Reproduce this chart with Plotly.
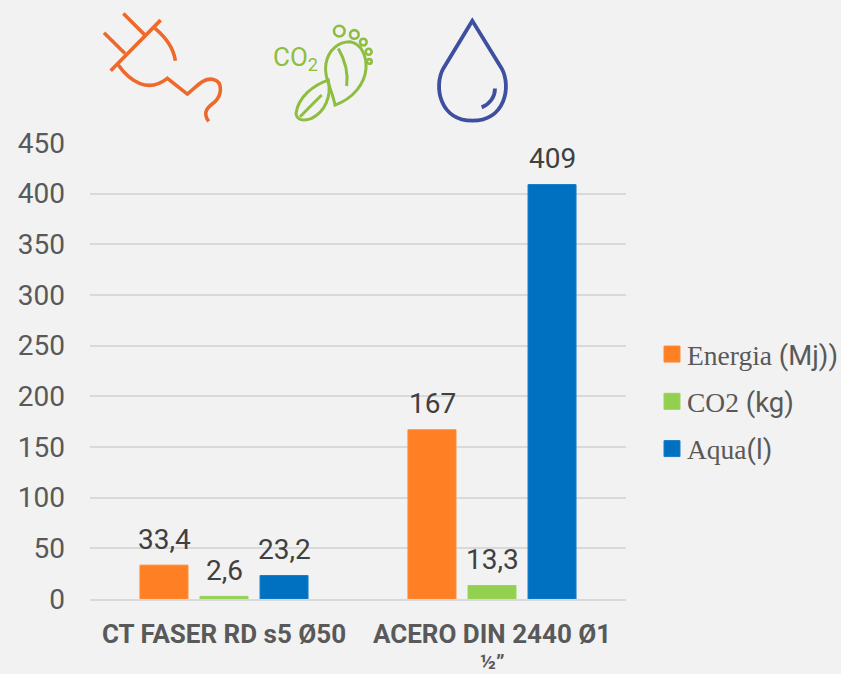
import re
import plotly.graph_objects as go

W, H = 841, 674
L, R, T, B = 90, 626, 143, 599.5
PW = W - L  # paper width: right margin is zero, the axis domain stops at R

categories = ["CT FASER RD s5 Ø50", "ACERO DIN 2440 Ø1"]
category_second_lines = ["", "½”"]
energia = [33.4, 167]
co2 = [2.6, 13.3]
agua = [23.2, 409]
series_names = [
    '<span style="font-family:Liberation Serif">Energia</span> (Mj))',
    '<span style="font-family:Liberation Serif">CO2</span> (kg)',
    '<span style="font-family:Liberation Serif">Aqua</span>(l)',
]
colors = ["#FF7F24", "#92D050", "#0070C0"]
edges = ["#FF8A38", "#9AD45E", "#1A7EC8"]


def label(v):
    return str(v).replace(".", ",")


fig = go.Figure()
offsets = [-60, 0, 60]
for name, vals, c, e, dx in zip(series_names, [energia, co2, agua], colors, edges, offsets):
    fig.add_bar(
        x=categories, y=vals, name=name, legendgroup=name,
        marker=dict(color=c, line=dict(color=e, width=1)),
        cliponaxis=False,
    )
    for cat, v in zip(categories, vals):
        fig.add_annotation(x=cat, y=v, xref="x", yref="y", text=label(v), showarrow=False,
                           xshift=dx, yshift=26, yanchor="middle",
                           font=dict(family="Roboto", size=28, color="#404040"))

for cat, line2 in zip(categories, category_second_lines):
    if line2:
        fig.add_annotation(x=cat, y=0, xref="x", yref="y", text=line2, showarrow=False,
                           yshift=-62.5, yanchor="middle",
                           font=dict(family="Roboto", size=21, color="#595959", weight="bold"))


def px(x, y):
    return (x - L) / PW, (B - y) / (B - T)


def zpath(d, ox, scale=1 / 3):
    """Convert a path in icon-sketch pixels to paper coordinates."""
    def rep(m):
        x, y = px(ox + float(m.group(1)) * scale, float(m.group(2)) * scale)
        return f"{x:.5f} {y:.5f}"
    return re.sub(r"(-?[\d.]+) (-?[\d.]+)", rep, d)


shapes = []


def add_path(d, ox, color, width):
    shapes.append(dict(type="path", xref="paper", yref="paper", path=zpath(d, ox),
                       line=dict(color=color, width=width), layer="above"))


def add_circle(cx, cy, r, ox, color, width):
    x0, y0 = px(ox + (cx - r) / 3, (cy + r) / 3)
    x1, y1 = px(ox + (cx + r) / 3, (cy - r) / 3)
    shapes.append(dict(type="circle", xref="paper", yref="paper", x0=x0, y0=y0, x1=x1, y1=y1,
                       line=dict(color=color, width=width)))


ORANGE, GREEN, BLUE = "#EE6A2C", "#8DBE3F", "#3F4FA0"
for d in [
    "M 100 40 L 165 105",
    "M 42 98 L 105 160",
    "M 62 212 L 212 60",
    "M 195 85 C 225 110 250 140 256 182",
    "M 85 195 C 120 245 175 280 232 235 L 292 282 C 320 260 340 232 370 238 "
    "C 400 245 395 285 375 305 C 355 320 335 335 356 364",
]:
    add_path(d, 90, ORANGE, 3.6)
for d in [
    "M 735 315 C 725 265 700 230 708 190 C 715 150 745 125 780 125 "
    "C 815 130 830 170 828 205 C 825 250 790 295 735 315 Z",
    "M 745 145 C 765 180 775 220 770 258",
    "M 715 240 C 670 255 625 290 618 340 C 620 360 640 365 665 355 C 705 335 725 290 715 240 Z",
    "M 630 350 L 695 285",
]:
    add_path(d, 90, GREEN, 3)
for c in [(748, 93, 16), (793, 103, 13), (820, 126, 10), (836, 155, 9), (838, 184, 7)]:
    add_circle(*c, 90, GREEN, 2.6)
add_path("M 247 62 L 160 205 C 130 260 150 362 247 362 C 345 362 365 260 335 205 Z", 390, BLUE, 3.8)
add_path("M 275 322 C 300 312 315 290 315 265", 390, BLUE, 3.8)

co2_x, co2_y = px(295, 58)
fig.add_annotation(xref="paper", yref="paper", x=co2_x, y=co2_y, text="CO<sub>2</sub>", showarrow=False,
                   xanchor="center", yanchor="middle",
                   font=dict(family="Roboto", size=26, color=GREEN))

fig.update_layout(
    width=W, height=H, autosize=False,
    margin=dict(l=L, r=0, t=T, b=H - B, pad=0, autoexpand=False),
    paper_bgcolor="#F2F2F2", plot_bgcolor="#F2F2F2",
    barmode="group", bargap=0.328, bargroupgap=0.2,
    shapes=shapes, showlegend=True,
    legend=dict(x=(647 - L) / PW, xanchor="left", y=0.4327, yanchor="middle", tracegroupgap=8.5,
                font=dict(family="Roboto", size=27.5, color="#595959"),
                itemwidth=30, traceorder="grouped"),
    xaxis=dict(domain=[0, (R - L) / PW], automargin=False, showline=True, linecolor="#D9D9D9",
               linewidth=2, ticks="", showgrid=False, ticklabelstandoff=11,
               tickfont=dict(family="Roboto", size=26, color="#595959", weight="bold")),
    yaxis=dict(range=[0, 450], dtick=50, automargin=False, showgrid=True, gridcolor="#D9D9D9",
               gridwidth=1.5, zeroline=False, ticks="", ticklen=0, ticklabelstandoff=24,
               tickfont=dict(family="Roboto", size=28, color="#595959")),
)
post = ("document.body.style.margin='0';"
        "document.querySelectorAll('.legendpoints path').forEach(p=>p.setAttribute('d','M13,8H-3V-8H13Z'));")
fig.write_html("out.html", post_script=post, config={"displayModeBar": False})
